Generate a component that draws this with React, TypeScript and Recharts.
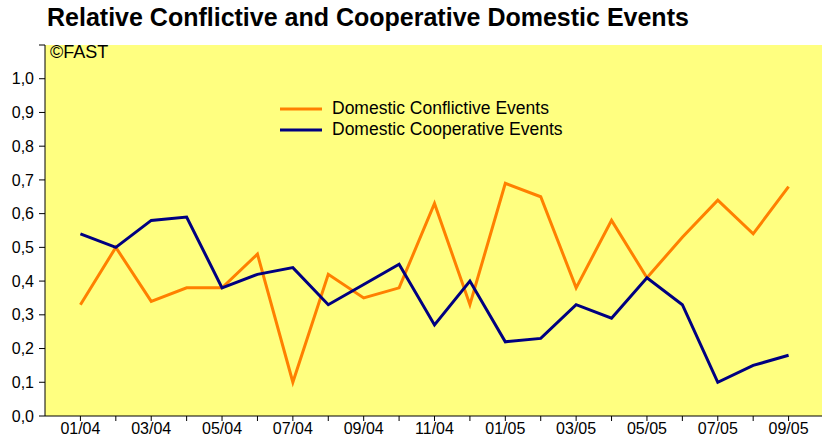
import React from 'react'
import { LineChart, Line, XAxis, YAxis, CartesianGrid } from 'recharts'

const months = [
  '01/04', '02/04', '03/04', '04/04', '05/04', '06/04', '07/04', '08/04', '09/04', '10/04', '11/04', '12/04',
  '01/05', '02/05', '03/05', '04/05', '05/05', '06/05', '07/05', '08/05', '09/05',
]
const conflictive = [0.33, 0.5, 0.34, 0.38, 0.38, 0.48, 0.1, 0.42, 0.35, 0.38, 0.63, 0.33, 0.69, 0.65, 0.38, 0.58, 0.41, 0.53, 0.64, 0.54, 0.68]
const cooperative = [0.54, 0.5, 0.58, 0.59, 0.38, 0.42, 0.44, 0.33, 0.39, 0.45, 0.27, 0.4, 0.22, 0.23, 0.33, 0.29, 0.41, 0.33, 0.1, 0.15, 0.18]
const yTicks = [0, 0.1, 0.2, 0.3, 0.4, 0.5, 0.6, 0.7, 0.8, 0.9, 1.0, 1.1]

const ORANGE = '#FF8000'
const NAVY = '#000080'
const FONT = '"Liberation Sans", Arial, sans-serif'

const data = months.map((m, i) => ({ idx: i, month: m, conflictive: conflictive[i], cooperative: cooperative[i] }))
const xTicks = months.map((_, i) => i)

const legendItems = [
  { name: 'Domestic Conflictive Events', color: ORANGE },
  { name: 'Domestic Cooperative Events', color: NAVY },
]

export default function App() {
  return (
    <div style={{ position: 'absolute', left: 0, top: 0, width: 822, height: 444, overflow: 'hidden', background: '#fff', fontFamily: FONT }}>
      <div style={{ position: 'absolute', left: 47, top: 3, fontSize: 25, fontWeight: 'bold', color: '#000', whiteSpace: 'nowrap' }}>
        Relative Conflictive and Cooperative Domestic Events
      </div>
      <LineChart width={832} height={444} data={data} margin={{ top: 45, right: 8, bottom: 0, left: 0 }}>
        <CartesianGrid fill="#FFFF80" horizontal={false} vertical={false} />
        <XAxis
          dataKey="idx"
          type="number"
          domain={[-1, 21]}
          ticks={xTicks}
          interval={0}
          height={28}
          tickSize={5}
          tickMargin={2}
          stroke="#000"
          tick={{ fontSize: 16, fill: '#000', fontFamily: FONT }}
          tickFormatter={(v: number) => (v % 2 === 0 ? months[v] : '')}
        />
        <YAxis
          type="number"
          domain={[0, 1.1]}
          ticks={yTicks}
          interval={0}
          width={45}
          tickSize={6}
          tickMargin={5}
          stroke="#000"
          tick={{ fontSize: 16, fill: '#000', fontFamily: FONT }}
          tickFormatter={(v: number) => (v > 1.05 ? '' : v.toFixed(1).replace('.', ','))}
        />
        <Line dataKey="conflictive" stroke={ORANGE} strokeWidth={3} dot={false} isAnimationActive={false} />
        <Line dataKey="cooperative" stroke={NAVY} strokeWidth={3} dot={false} isAnimationActive={false} />
      </LineChart>
      <div style={{ position: 'absolute', left: 50, top: 42, fontSize: 18, color: '#000' }}>©FAST</div>
      <div style={{ position: 'absolute', left: 280, top: 98 }}>
        {legendItems.map((it) => (
          <div key={it.name} style={{ display: 'flex', alignItems: 'center', height: 21, fontSize: 17.5, color: '#000' }}>
            <svg width={52} height={6}>
              <line x1={0} y1={3} x2={42} y2={3} stroke={it.color} strokeWidth={3} />
            </svg>
            <span>{it.name}</span>
          </div>
        ))}
      </div>
    </div>
  )
}
